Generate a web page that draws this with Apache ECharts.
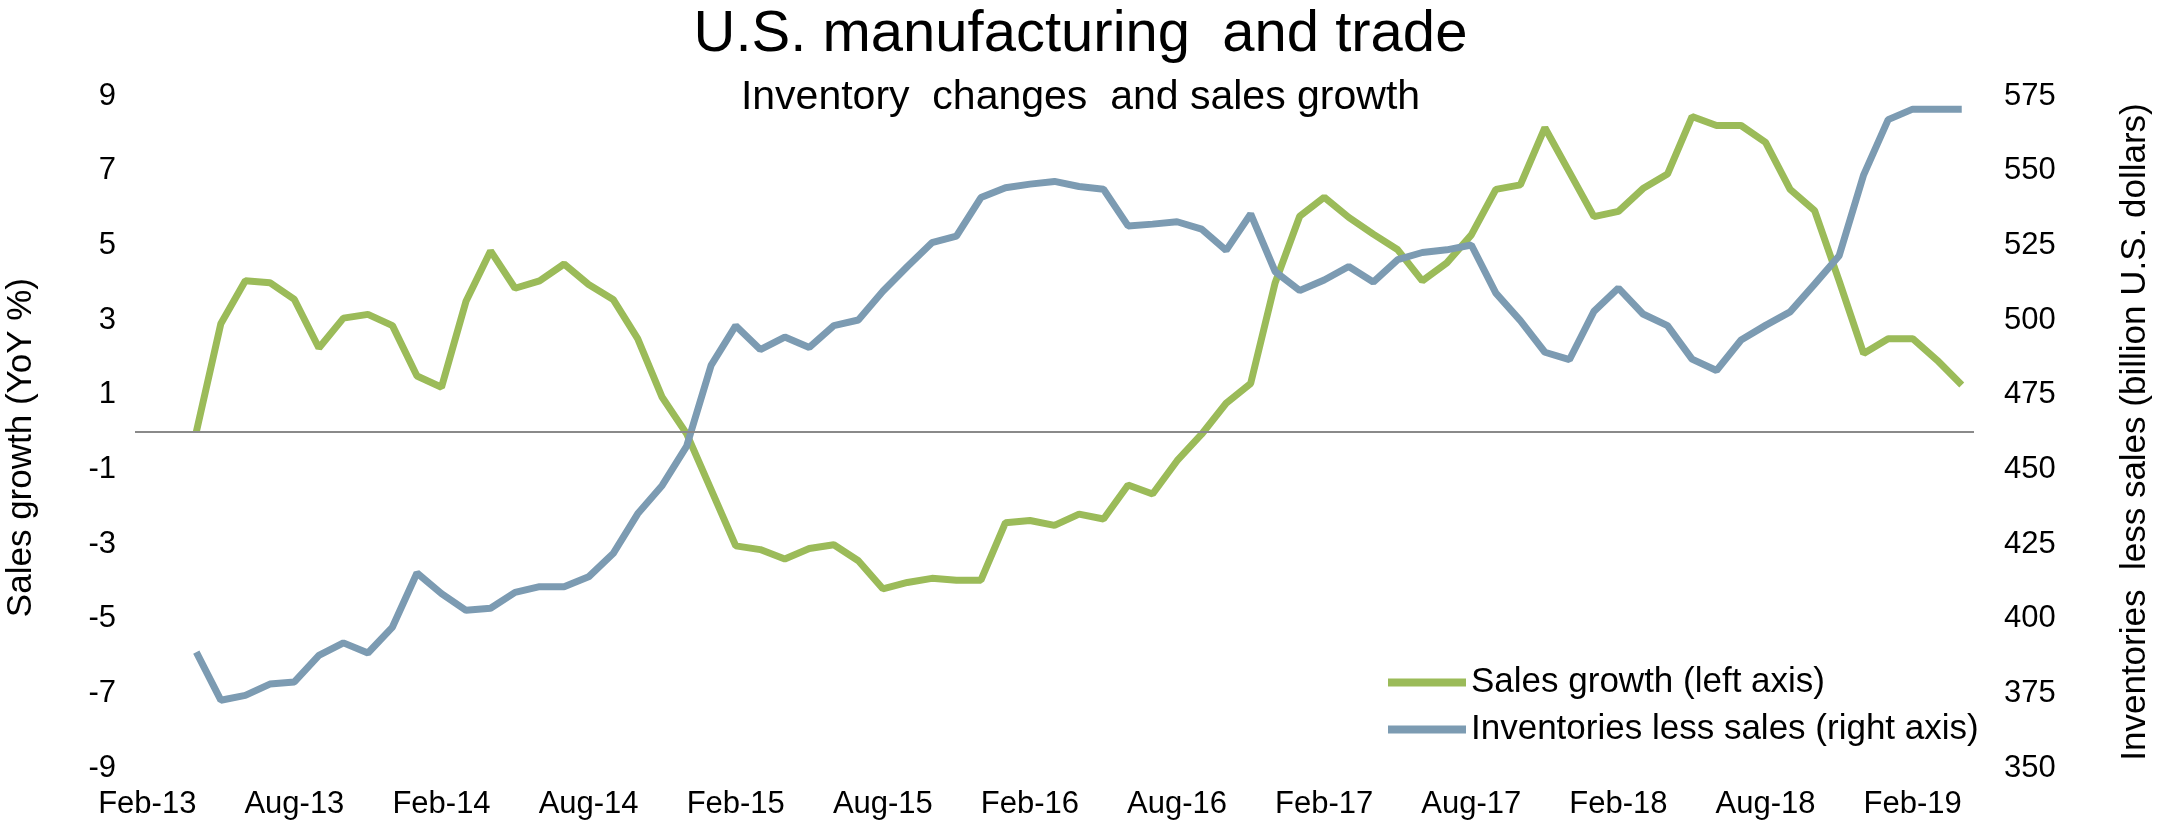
<!DOCTYPE html>
<html>
<head>
<meta charset="utf-8">
<title>U.S. manufacturing and trade</title>
<script src="https://cdn.jsdelivr.net/npm/echarts@6/dist/echarts.min.js"></script>
<style>
  html, body { margin: 0; padding: 0; background: #fff; }
  #chart { width: 2161px; height: 831px; }
</style>
</head>
<body>
<div id="chart"></div>
<script>
// monthly categories, Feb-13 .. Apr-19
const months = [
  'Feb-13', 'Mar-13', 'Apr-13', 'May-13', 'Jun-13', 'Jul-13', 'Aug-13', 'Sep-13', 'Oct-13', 'Nov-13', 'Dec-13',
  'Jan-14', 'Feb-14', 'Mar-14', 'Apr-14', 'May-14', 'Jun-14', 'Jul-14', 'Aug-14', 'Sep-14', 'Oct-14', 'Nov-14', 'Dec-14',
  'Jan-15', 'Feb-15', 'Mar-15', 'Apr-15', 'May-15', 'Jun-15', 'Jul-15', 'Aug-15', 'Sep-15', 'Oct-15', 'Nov-15', 'Dec-15',
  'Jan-16', 'Feb-16', 'Mar-16', 'Apr-16', 'May-16', 'Jun-16', 'Jul-16', 'Aug-16', 'Sep-16', 'Oct-16', 'Nov-16', 'Dec-16',
  'Jan-17', 'Feb-17', 'Mar-17', 'Apr-17', 'May-17', 'Jun-17', 'Jul-17', 'Aug-17', 'Sep-17', 'Oct-17', 'Nov-17', 'Dec-17',
  'Jan-18', 'Feb-18', 'Mar-18', 'Apr-18', 'May-18', 'Jun-18', 'Jul-18', 'Aug-18', 'Sep-18', 'Oct-18', 'Nov-18', 'Dec-18',
  'Jan-19', 'Feb-19', 'Mar-19', 'Apr-19'
]

// both series start in Apr-13
const firstDataMonth = 'Apr-13'

// sales growth, YoY % (left axis)
const salesGrowth = [
  0.0, 2.9, 4.05, 4.0, 3.55, 2.25, 3.05, 3.15, 2.85,
  1.5, 1.2, 3.5, 4.85, 3.85, 4.05, 4.5, 3.95, 3.55, 2.5, 0.93, -0.05,
  -1.55, -3.05, -3.15, -3.4, -3.12, -3.02, -3.45, -4.2, -4.03, -3.92, -3.97, -3.97,
  -2.43, -2.37, -2.5, -2.2, -2.33, -1.42, -1.66, -0.77, -0.06, 0.77, 1.3, 4.0,
  5.78, 6.29, 5.75, 5.3, 4.88, 4.05, 4.53, 5.28, 6.5, 6.62, 8.15, 6.96,
  5.77, 5.91, 6.52, 6.91, 8.45, 8.21, 8.21, 7.76, 6.5, 5.93, 4.05, 2.1,
  2.5, 2.5, 1.92, 1.26
]

// inventories less sales, billion U.S. dollars (right axis)
const inventoriesLessSales = [
  388.8, 372.7, 374.3, 378.1, 378.8, 387.7, 391.9, 388.5, 397.2,
  415.3, 408.4, 402.8, 403.5, 408.8, 410.7, 410.7, 414.0, 421.8, 435.1, 444.6, 457.8,
  484.9, 498.1, 490.1, 494.3, 490.8, 498.1, 500.0, 509.6, 517.9, 525.9, 528.1, 541.0,
  544.3, 545.5, 546.4, 544.7, 543.8, 531.5, 532.1, 532.9, 530.4, 523.3, 535.5, 516.2,
  509.9, 513.4, 517.9, 512.7, 520.2, 522.6, 523.5, 525.1, 509.0, 499.8, 489.2, 486.7,
  502.9, 510.7, 502.0, 498.1, 486.9, 483.1, 493.3, 498.2, 502.7, 512.0, 521.5, 548.6,
  567.1, 570.6, 570.6, 570.6
]

const chart = echarts.init(document.getElementById('chart'))
const font = '"Liberation Sans", Arial, sans-serif'
const offset = months.indexOf(firstDataMonth)

const option = {
  animation: false,
  color: ['#9BBB59', '#7C9BB2'],
  textStyle: { fontFamily: font, color: '#000' },
  title: [
    {
      text: 'U.S. manufacturing  and trade',
      left: 'center',
      top: 1,
      textStyle: { fontFamily: font, fontSize: 58, fontWeight: 'normal', color: '#000' }
    },
    {
      text: 'Inventory  changes  and sales growth',
      left: 'center',
      top: 72,
      textStyle: { fontFamily: font, fontSize: 41, fontWeight: 'normal', color: '#000' }
    }
  ],
  // left axis title sits a little below the plot centre, as in the original
  graphic: [
    {
      type: 'text',
      left: 4,
      top: 278,
      rotation: Math.PI / 2,
      style: {
        text: 'Sales growth (YoY %)',
        font: '35px "Liberation Sans", Arial, sans-serif',
        fill: '#000'
      }
    }
  ],
  grid: {
    left: 135,
    right: 179,
    top: 96,
    bottom: 63,
    containLabel: false
  },
  legend: {
    orient: 'vertical',
    left: 1383,
    top: 660,
    icon: 'rect',
    itemWidth: 78,
    itemHeight: 8,
    itemGap: 12,
    textStyle: { fontFamily: font, fontSize: 35, color: '#000', lineHeight: 35 },
    data: ['Sales growth (left axis)', 'Inventories less sales (right axis)']
  },
  xAxis: {
    type: 'category',
    data: months,
    boundaryGap: true,
    axisLine: { show: false },
    axisTick: { show: false },
    splitLine: { show: false },
    axisLabel: {
      interval: (idx) => idx % 6 === 0,
      fontFamily: font,
      fontSize: 31,
      color: '#000',
      margin: 21
    }
  },
  yAxis: [
    {
      type: 'value',
      min: -9,
      max: 9,
      interval: 2,
      axisLine: { show: false },
      axisTick: { show: false },
      splitLine: { show: false },
      axisLabel: { fontFamily: font, fontSize: 31, color: '#000', margin: 19 }
    },
    {
      type: 'value',
      min: 350,
      max: 575,
      interval: 25,
      position: 'right',
      name: 'Inventories  less sales (billion U.S. dollars)',
      nameLocation: 'middle',
      nameRotate: 90,
      nameGap: 144,
      nameTextStyle: { fontFamily: font, fontSize: 35, color: '#000', padding: [0, 0, 0, 0] },
      axisLine: { show: false },
      axisTick: { show: false },
      splitLine: { show: false },
      axisLabel: { fontFamily: font, fontSize: 31, color: '#000', margin: 30 }
    }
  ],
  series: [
    {
      name: 'Sales growth (left axis)',
      type: 'line',
      yAxisIndex: 0,
      showSymbol: false,
      lineStyle: { width: 7 },
      data: salesGrowth.map((v, i) => [months[i + offset], v]),
      markLine: {
        silent: true,
        symbol: ['none', 'none'],
        label: { show: false },
        lineStyle: { color: '#8a8a8a', width: 2, type: 'solid' },
        data: [{ yAxis: 0 }]
      }
    },
    {
      name: 'Inventories less sales (right axis)',
      type: 'line',
      yAxisIndex: 1,
      showSymbol: false,
      lineStyle: { width: 7 },
      data: inventoriesLessSales.map((v, i) => [months[i + offset], v])
    }
  ]
}

chart.setOption(option)
</script>
</body>
</html>
